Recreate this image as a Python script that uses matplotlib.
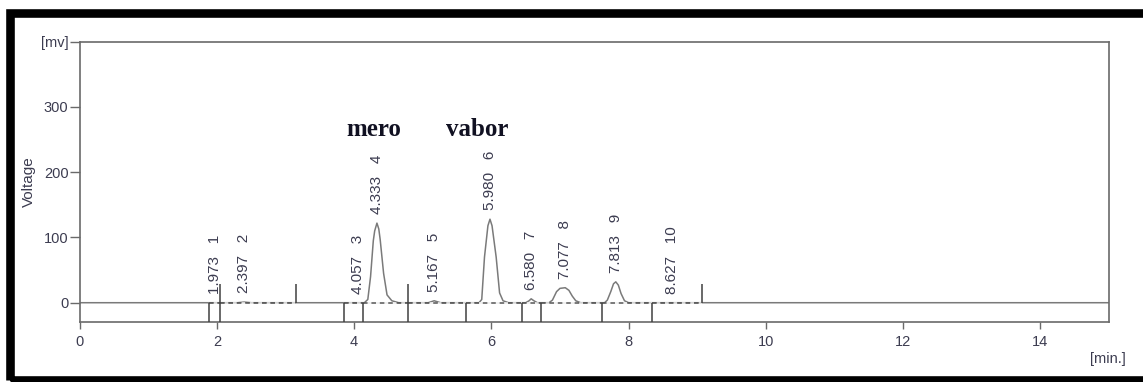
import matplotlib

matplotlib.use("Agg")

import matplotlib.pyplot as plt
from matplotlib.patches import Rectangle

# peak table
peak_numbers = [1, 2, 3, 4, 5, 6, 7, 8, 9, 10]
retention_times = [1.973, 2.397, 4.057, 4.333, 5.167, 5.980, 6.580, 7.077, 7.813, 8.627]
peak_heights = [0, 1, 0, 122, 3, 128, 6, 23, 32, 0]

# compound names written above the two main peaks
compound_names = ["mero", "vabor"]
compound_times = [4.29, 5.79]
compound_level = 265

# detector trace, (min, mV) read point by point
trace_time = [
    0.0, 2.30, 2.397, 2.50,
    4.15, 4.20, 4.24, 4.28, 4.30, 4.333, 4.36, 4.38, 4.43, 4.48, 4.55, 4.65,
    5.08, 5.167, 5.26,
    5.82, 5.86, 5.90, 5.95, 5.98, 6.01, 6.07, 6.12, 6.17, 6.25,
    6.50, 6.55, 6.58, 6.62, 6.67,
    6.84, 6.89, 6.95, 7.00, 7.077, 7.13, 7.18, 7.23, 7.30,
    7.65, 7.69, 7.74, 7.78, 7.813, 7.85, 7.89, 7.94, 8.00,
    15.0,
]
trace_mv = [
    0, 0, 1, 0,
    0, 5, 40, 95, 110, 122, 113, 97, 45, 12, 3, 0,
    0, 3, 0,
    0, 5, 70, 118, 128, 118, 70, 15, 3, 0,
    0, 3, 6, 3, 0,
    0, 4, 17, 22, 23, 19, 10, 3, 0,
    0, 4, 17, 29, 32, 27, 14, 3, 0,
    0,
]

# integration windows: dashed baseline from start to end
baseline_start = [1.89, 2.04, 3.85, 4.13, 4.78, 5.63, 6.45, 6.73, 7.61, 8.34]
baseline_end = [2.04, 3.15, 4.13, 4.78, 5.63, 6.45, 6.73, 7.61, 8.34, 9.07]

# event marks below and above the baseline
drop_marks = [1.89, 2.04, 3.85, 4.13, 4.78, 5.63, 6.45, 6.73, 7.61, 8.34]
rise_marks = [2.04, 3.15, 4.78, 9.07]

x_ticks = [0, 2, 4, 6, 8, 10, 12, 14]
y_ticks = [0, 100, 200, 300, 400]
y_tick_labels = ["0", "100", "200", "300", "[mv]"]

TEXT = "#3c3c50"
LINE = "#6a6a6a"

plt.rcParams["font.family"] = ["Liberation Sans", "DejaVu Sans"]

fig = plt.figure(figsize=(11.43, 3.82), dpi=100)
ax = fig.add_axes([0.0696, 0.1563, 0.9007, 0.7345])

ax.plot(trace_time, trace_mv, color="#7a7a7a", lw=1.1, zorder=2)
ax.hlines(
    [0] * len(baseline_start), baseline_start, baseline_end,
    colors="#555555", lw=1.1, linestyles=(0, (3, 2.5)),
    gapcolor="#eeeeee", zorder=3,
)
ax.vlines(drop_marks, -30, 0, colors="#404040", lw=1.1, zorder=3)
ax.vlines(rise_marks, 0, 29, colors="#404040", lw=1.1, zorder=3)

for num, rt, h in zip(peak_numbers, retention_times, peak_heights):
    ax.text(
        rt, h + 14, f"{rt:.3f}   {num}",
        rotation=90, ha="center", va="bottom",
        fontsize=11, color=TEXT,
    )

for name, t in zip(compound_names, compound_times):
    ax.text(
        t, compound_level, name, ha="center", va="center",
        fontsize=18, fontweight="bold", family="Liberation Serif", color="#111122",
    )

ax.set_xlim(0, 15)
ax.set_ylim(-30, 400)
ax.set_xticks(x_ticks)
ax.set_yticks(y_ticks)
ax.set_yticklabels(y_tick_labels)
ax.tick_params(axis="x", direction="out", length=5, width=1, color=LINE,
               labelsize=10.5, labelcolor=TEXT, pad=4)
ax.tick_params(axis="y", direction="out", length=7, width=1, color=LINE,
               labelsize=10.5, labelcolor=TEXT, pad=1)
for spine in ax.spines.values():
    spine.set_color(LINE)
    spine.set_linewidth(1.2)

fig.text(29 / 1143, 1 - 182 / 382, "Voltage", rotation=90, ha="center",
         va="center", fontsize=11, color=TEXT)
fig.text(1108 / 1143, 1 - 359 / 382, "[min.]", ha="center", va="center",
         fontsize=10.5, color=TEXT)

# heavy black frame around the figure; right edge runs off the image
fig.patches.append(Rectangle(
    (10 / 1143, 1 - 380 / 382), 1.2, (380 - 12.5) / 382,
    transform=fig.transFigure, fill=False, edgecolor="black", lw=6.2,
))

fig.savefig("out.png", dpi=100)
